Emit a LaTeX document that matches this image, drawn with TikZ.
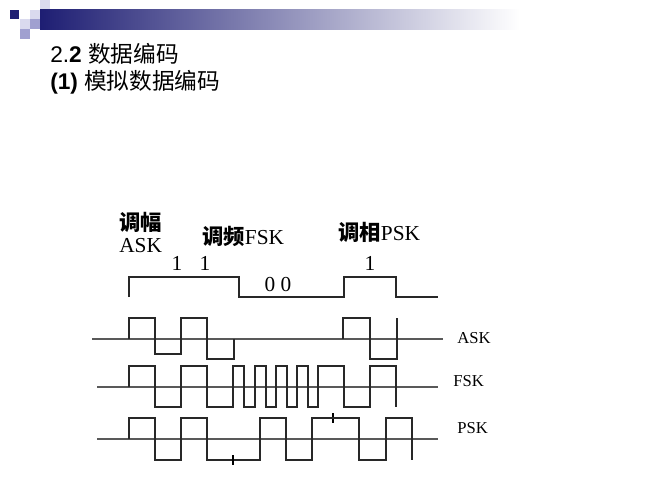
\documentclass[tikz,border=0pt]{standalone}
\usepackage{fontspec}
\setmainfont{Liberation Serif}
\setsansfont{Liberation Sans}
\newfontfamily\cjk{Noto Sans CJK SC}
\definecolor{bandnavy}{RGB}{30,30,115}
\definecolor{bandlight}{RGB}{218,218,238}
\definecolor{bandmid}{RGB}{160,160,208}
\definecolor{wavegray}{RGB}{40,40,40}
\begin{document}
\begin{tikzpicture}[x=0.75pt,y=-0.75pt,
	wave/.style={line width=1pt,wavegray},
	axisline/.style={line width=0.9pt,black!65!white},
	tickmark/.style={line width=1pt,black},
	lbl/.style={inner sep=0pt,font=\fontsize{16}{18}\selectfont},
	sidelbl/.style={inner sep=0pt,anchor=west,font=\fontsize{12.5}{14}\selectfont},
	heading/.style={inner sep=0pt,anchor=base west,font=\sffamily\fontsize{17}{20}\selectfont}]
	\useasboundingbox (0,0) rectangle (667,500);
	
	% banner
	\fill[bandlight] (40,0) rectangle (50,9.5);
	\fill[bandnavy] (10,10) rectangle (19,19);
	\fill[bandlight] (30,9.5) rectangle (40,19);
	\fill[bandmid] (30,19) rectangle (40,29);
	\fill[bandlight] (20,19) rectangle (30,29);
	\fill[bandmid] (20,29) rectangle (30,39);
	\shade[left color=bandnavy,right color=white] (40,9.5) rectangle (520,29);
	
	\node[heading] (h1) at (50,62) {2.\textbf{2} {\cjk 数据编码}};
	\node[heading] (h2) at (50,89) {\textbf{(1)} {\cjk 模拟数据编码}};
	
	\node[lbl,anchor=west] (am1) at (119,222) {\cjk\bfseries 调幅};
	\node[lbl,anchor=west] (am2) at (119,246) {ASK};
	\node[lbl,anchor=west] (fm) at (202,236) {{\cjk\bfseries 调频}FSK};
	\node[lbl,anchor=west] (pm) at (338,232) {{\cjk\bfseries 调相}PSK};
	\node[lbl] (b1) at (177,263) {1};
	\node[lbl] (b2) at (205,263) {1};
	\node[lbl] (b34) at (278,285) {0 0};
	\node[lbl] (b5) at (370,263) {1};
	
	% data bits
	\draw[wave] (129,297) -- (129,277) -- (239,277) -- (239,297) -- (344,297)
	-- (344,277) -- (396,277) -- (396,297) -- (438,297);
	
	% ASK
	\draw[axisline] (92,339) -- (443,339);
	\draw[wave] (129,339) -- (129,318) -- (155,318) -- (155,354) -- (181,354)
	-- (181,318) -- (207,318) -- (207,359) -- (234,359) -- (234,339);
	\draw[wave] (343,339) -- (343,318) -- (370,318) -- (370,359) -- (397,359) -- (397,318);
	\node[sidelbl] (ask) at (457,338) {ASK};
	
	% FSK
	\draw[axisline] (97,387) -- (438,387);
	\draw[wave] (129,387) -- (129,366) -- (155,366) -- (155,407) -- (181,407)
	-- (181,366) -- (207,366) -- (207,407) -- (233,407) -- (233,366)
	-- (244,366) -- (244,407) -- (255,407) -- (255,366) -- (266,366)
	-- (266,407) -- (276,407) -- (276,366) -- (287,366) -- (287,407)
	-- (297,407) -- (297,366) -- (308,366) -- (308,407) -- (318,407)
	-- (318,366) -- (344,366) -- (344,407) -- (370,407) -- (370,366)
	-- (396,366) -- (396,407);
	\draw[tickmark] (333,413) -- (333,423);
	\node[sidelbl] (fsk) at (453,381) {FSK};
	
	% PSK
	\draw[axisline] (97,439) -- (438,439);
	\draw[wave] (129,439) -- (129,418) -- (155,418) -- (155,460) -- (181,460)
	-- (181,418) -- (207,418) -- (207,460) -- (260,460) -- (260,418)
	-- (286,418) -- (286,460) -- (312,460) -- (312,418) -- (359,418)
	-- (359,460) -- (386,460) -- (386,418) -- (412,418) -- (412,460);
	\draw[tickmark] (233,455) -- (233,465);
	\node[sidelbl] (psk) at (457,428) {PSK};
	
\end{tikzpicture}
\end{document}
